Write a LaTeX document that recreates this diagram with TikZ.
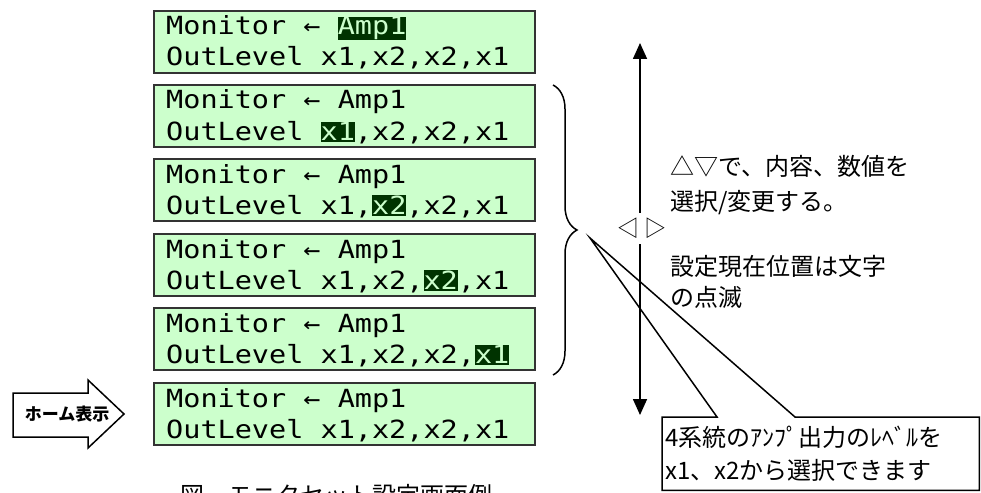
\documentclass[tikz,border=0pt]{standalone}
\usepackage{fontspec}
\setmainfont{Noto Sans CJK JP}
\newfontfamily\lcdfont[FakeStretch=1.14]{DejaVu Sans Mono}
\usepackage{tikz}
\usetikzlibrary{
        arrows.meta,
        decorations.pathreplacing
    }
\definecolor{lcdbg}{RGB}{204,255,204}
\definecolor{lcdsel}{RGB}{0,51,0}
\definecolor{lcdedge}{RGB}{51,51,51}
\newcommand\lcdsel[1]{{\setlength{\fboxsep}{0pt}\colorbox{lcdsel}{\rule[-2pt]{0pt}{20pt}\color{lcdbg}#1}}}
\tikzset{>={Triangle[width=14pt,length=16pt]}}
\tikzset{
    lcd/.style={draw=lcdedge,fill=lcdbg,line width=1.8pt,minimum width=381pt,
        minimum height=62pt,inner sep=0pt,anchor=north west},
    lcdline/.style={anchor=base west,inner sep=0pt,font=\lcdfont\fontsize{25}{25}\selectfont},
    memo/.style={anchor=north west,inner sep=0pt,align=left}
}

\begin{document}
\begin{tikzpicture}[x=1pt,y=-1pt]
            \useasboundingbox (0,0) rectangle (981,492);
            % screens, top to bottom
            \node[lcd] (lcd1) at (153,10) {};
            \node[lcdline] (mon1) at (166,35) {Monitor ← \lcdsel{Amp1}};
            \node[lcdline] (out1) at (166,66) {OutLevel x1,x2,x2,x1};
            \node[lcd] (lcd2) at (153,84) {};
            \node[lcdline] (mon2) at (166,109) {Monitor ← Amp1};
            \node[lcdline] (out2) at (166,140) {OutLevel \lcdsel{x1},x2,x2,x1};
            \node[lcd] (lcd3) at (153,158) {};
            \node[lcdline] (mon3) at (166,183) {Monitor ← Amp1};
            \node[lcdline] (out3) at (166,214) {OutLevel x1,\lcdsel{x2},x2,x1};
            \node[lcd] (lcd4) at (153,233) {};
            \node[lcdline] (mon4) at (166,258) {Monitor ← Amp1};
            \node[lcdline] (out4) at (166,289) {OutLevel x1,x2,\lcdsel{x2},x1};
            \node[lcd] (lcd5) at (153,307) {};
            \node[lcdline] (mon5) at (166,332) {Monitor ← Amp1};
            \node[lcdline] (out5) at (166,363) {OutLevel x1,x2,x2,\lcdsel{x1}};
            \node[lcd] (lcd6) at (153,382) {};
            \node[lcdline] (mon6) at (166,407) {Monitor ← Amp1};
            \node[lcdline] (out6) at (166,438) {OutLevel x1,x2,x2,x1};
            % home arrow
            \draw[line width=1.5pt,fill=white] (13,393) -- (88,393) -- (88,380) -- (124,414)
                -- (88,448) -- (88,437) -- (13,437) -- cycle;
            \node[font=\bfseries\fontsize{17}{17}\selectfont] (home) at (67,414) {ホーム表示};
            % brace over the edit screens
            \coordinate (bracetop) at (553,85);
            \coordinate (bracebot) at (553,375);
            \draw[line width=1.5pt,decorate,decoration={brace,amplitude=24pt}] (bracetop) -- (bracebot);
            % up/down arrow with the left/right keys
            \coordinate (up) at (640,43);
            \coordinate (down) at (640,415);
            \draw[<->,line width=1.6pt] (up) -- (down);
            \node[fill=white,inner xsep=1pt,inner ysep=0pt,minimum height=31pt,
                font=\fontsize{22}{22}\selectfont] (lr) at (642,228) {◁ ▷};
            \node[memo,font=\fontsize{24}{35}\selectfont] (keys) at (670,155) {△▽で、内容、数値を\\選択/変更する。};
            \node[memo,font=\fontsize{24}{31}\selectfont] (blink) at (670,255) {設定現在位置は文字\\の点滅};
            % callout
            \coordinate (tip) at (590,238);
            \node[anchor=north west,minimum width=317pt,minimum height=73pt,inner xsep=3pt,
                inner ysep=0pt,text width=311pt,align=left,font=\fontsize{24}{33}\selectfont]
                (note) at (662,417) {4系統のｱﾝﾌﾟ出力のﾚﾍﾞﾙを\\x1、x2から選択できます};
            \draw[line width=1.5pt] (note.north west) -- ++(55,0) -- (tip) -- ([xshift=133pt]note.north west)
                -- (note.north east) -- (note.south east) -- (note.south west) -- cycle;
            \node[anchor=north west,inner sep=0pt,font=\fontsize{24}{24}\selectfont] (caption) at (180,484)
                {図　モニタセット設定画面例};
\end{tikzpicture}
\end{document}
